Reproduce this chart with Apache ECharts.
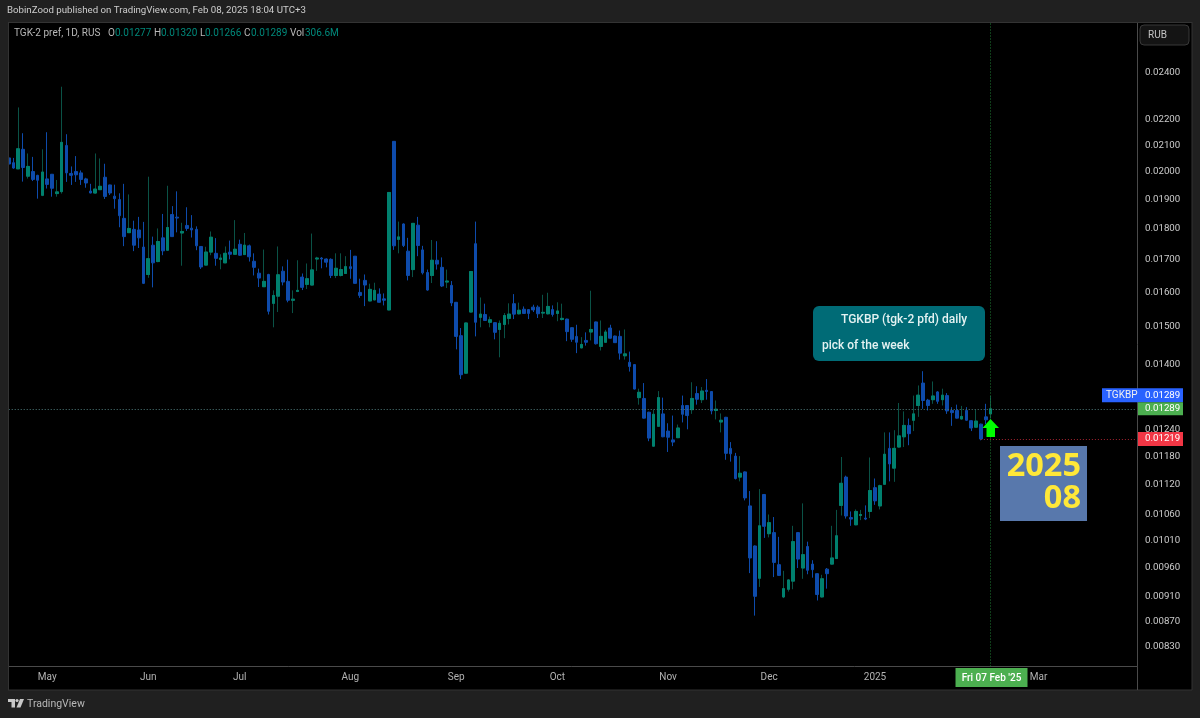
<!DOCTYPE html>
<html>
<head>
<meta charset="utf-8">
<title>TGK-2 pref, 1D</title>
<style>
  html, body { margin: 0; padding: 0; background: #000; }
  #chart { width: 1200px; height: 718px; }
</style>
<script src="https://cdn.jsdelivr.net/npm/echarts@6/dist/echarts.min.js"></script>
</head>
<body>
<div id="chart"></div>
<script>
// daily bars
const opens = [
  0.02051,0.02033,0.02010,0.02084,0.01983,0.02000,0.01986,0.01914,0.01973,0.01990,
  0.01920,0.01927,0.02099,0.01993,0.02000,0.01995,0.01973,0.01929,0.01922,0.01934,
  0.01979,0.01951,0.01911,0.01899,0.01834,0.01786,0.01797,0.01795,0.01739,0.01653,
  0.01745,0.01693,0.01769,0.01729,0.01847,0.01838,0.01785,0.01810,0.01801,0.01797,
  0.01741,0.01682,0.01723,0.01719,0.01700,0.01689,0.01723,0.01716,0.01748,0.01715,
  0.01743,0.01694,0.01657,0.01616,0.01653,0.01567,0.01588,0.01663,0.01632,0.01576,
  0.01602,0.01645,0.01623,0.01621,0.01701,0.01704,0.01701,0.01700,0.01650,0.01650,
  0.01656,0.01677,0.01710,0.01599,0.01635,0.01574,0.01577,0.01594,0.01580,0.01548,
  0.02115,0.01764,0.01815,0.01726,0.01668,0.01811,0.01730,0.01659,0.01650,0.01697,
  0.01675,0.01630,0.01620,0.01570,0.01476,0.01377,0.01542,0.01750,0.01527,0.01535,
  0.01513,0.01512,0.01493,0.01507,0.01524,0.01566,0.01537,0.01550,0.01549,0.01556,
  0.01556,0.01539,0.01537,0.01549,0.01538,0.01521,0.01522,0.01498,0.01474,0.01443,
  0.01463,0.01486,0.01514,0.01447,0.01458,0.01497,0.01475,0.01474,0.01422,0.01405,
  0.01399,0.01316,0.01314,0.01281,0.01203,0.01248,0.01277,0.01237,0.01217,0.01222,
  0.01297,0.01297,0.01287,0.01326,0.01311,0.01334,0.01331,0.01285,0.01258,0.01269,
  0.01198,0.01181,0.01136,0.01147,0.01077,0.01000,0.00942,0.01100,0.01023,0.01025,
  0.00966,0.00910,0.00923,0.00937,0.01025,0.00960,0.00999,0.00967,0.00950,0.00910,
  0.00958,0.00967,0.00977,0.01078,0.01136,0.01054,0.01040,0.01058,0.01053,0.01066,
  0.01114,0.01077,0.01121,0.01198,0.01155,0.01201,0.01224,0.01250,0.01262,0.01297,
  0.01352,0.01310,0.01311,0.01330,0.01311,0.01321,0.01285,0.01285,0.01265,0.01285,
  0.01261,0.01246,0.01253,0.01270,0.01277
];
const closes = [
  0.02028,0.02013,0.02086,0.02015,0.02019,0.01971,0.01968,0.01998,0.01953,0.01939,
  0.01926,0.02111,0.01995,0.01986,0.01988,0.01971,0.01958,0.01922,0.01936,0.01946,
  0.01910,0.01922,0.01902,0.01843,0.01773,0.01800,0.01745,0.01769,0.01626,0.01702,
  0.01689,0.01757,0.01727,0.01803,0.01773,0.01835,0.01790,0.01800,0.01795,0.01743,
  0.01676,0.01723,0.01771,0.01703,0.01704,0.01719,0.01716,0.01732,0.01713,0.01745,
  0.01708,0.01675,0.01642,0.01632,0.01544,0.01590,0.01652,0.01630,0.01576,0.01579,
  0.01605,0.01614,0.01640,0.01667,0.01704,0.01701,0.01691,0.01650,0.01672,0.01668,
  0.01677,0.01671,0.01626,0.01590,0.01621,0.01608,0.01605,0.01570,0.01576,0.01924,
  0.01743,0.01772,0.01744,0.01650,0.01817,0.01744,0.01658,0.01606,0.01697,0.01685,
  0.01618,0.01633,0.01568,0.01474,0.01373,0.01511,0.01662,0.01513,0.01536,0.01518,
  0.01520,0.01485,0.01510,0.01532,0.01536,0.01536,0.01547,0.01538,0.01538,0.01548,
  0.01537,0.01541,0.01558,0.01535,0.01545,0.01524,0.01487,0.01466,0.01458,0.01452,
  0.01458,0.01493,0.01454,0.01474,0.01486,0.01469,0.01457,0.01429,0.01427,0.01394,
  0.01337,0.01329,0.01267,0.01221,0.01276,0.01316,0.01224,0.01223,0.01212,0.01244,
  0.01276,0.01273,0.01314,0.01312,0.01332,0.01331,0.01284,0.01288,0.01262,0.01187,
  0.01186,0.01133,0.01144,0.01093,0.00978,0.00911,0.01038,0.01037,0.01044,0.00970,
  0.00947,0.00924,0.00939,0.01008,0.00976,0.00984,0.00956,0.00957,0.00914,0.00941,
  0.00950,0.00978,0.01019,0.01123,0.01057,0.01051,0.01066,0.01060,0.01051,0.01108,
  0.01087,0.01118,0.01185,0.01164,0.01198,0.01226,0.01250,0.01231,0.01277,0.01322,
  0.01309,0.01297,0.01320,0.01307,0.01322,0.01284,0.01280,0.01267,0.01271,0.01262,
  0.01244,0.01260,0.01219,0.01263,0.01289
];
const lows = [
  0.02008,0.02010,0.02010,0.01963,0.01974,0.01965,0.01902,0.01911,0.01938,0.01909,
  0.01909,0.01920,0.01962,0.01951,0.01962,0.01951,0.01941,0.01921,0.01920,0.01933,
  0.01901,0.01915,0.01867,0.01804,0.01742,0.01785,0.01726,0.01736,0.01624,0.01643,
  0.01614,0.01691,0.01713,0.01728,0.01772,0.01787,0.01680,0.01792,0.01770,0.01729,
  0.01670,0.01681,0.01713,0.01680,0.01669,0.01688,0.01700,0.01715,0.01711,0.01714,
  0.01693,0.01650,0.01615,0.01615,0.01535,0.01499,0.01542,0.01620,0.01570,0.01539,
  0.01600,0.01606,0.01609,0.01620,0.01664,0.01672,0.01675,0.01642,0.01642,0.01647,
  0.01655,0.01640,0.01626,0.01583,0.01559,0.01573,0.01576,0.01569,0.01561,0.01547,
  0.01730,0.01719,0.01739,0.01635,0.01645,0.01710,0.01653,0.01604,0.01627,0.01668,
  0.01615,0.01612,0.01559,0.01439,0.01362,0.01376,0.01541,0.01474,0.01499,0.01517,
  0.01499,0.01466,0.01418,0.01469,0.01507,0.01522,0.01535,0.01537,0.01522,0.01542,
  0.01525,0.01525,0.01535,0.01529,0.01516,0.01518,0.01461,0.01459,0.01429,0.01442,
  0.01449,0.01463,0.01452,0.01436,0.01457,0.01468,0.01456,0.01412,0.01412,0.01381,
  0.01336,0.01299,0.01266,0.01214,0.01202,0.01247,0.01223,0.01190,0.01203,0.01221,
  0.01257,0.01241,0.01277,0.01299,0.01303,0.01311,0.01276,0.01264,0.01234,0.01173,
  0.01169,0.01131,0.01127,0.01088,0.00951,0.00879,0.00927,0.01015,0.01016,0.00944,
  0.00946,0.00908,0.00919,0.00923,0.00960,0.00941,0.00949,0.00943,0.00904,0.00909,
  0.00924,0.00966,0.00976,0.01058,0.01052,0.01038,0.01039,0.01049,0.01049,0.01053,
  0.01079,0.01070,0.01120,0.01127,0.01126,0.01200,0.01201,0.01205,0.01237,0.01270,
  0.01289,0.01285,0.01301,0.01301,0.01297,0.01277,0.01249,0.01266,0.01264,0.01261,
  0.01237,0.01245,0.01216,0.01253,0.01266
];
const highs = [
  0.02066,0.02051,0.02252,0.02147,0.02068,0.02055,0.01988,0.02084,0.02151,0.01991,
  0.01969,0.02340,0.02143,0.02019,0.02058,0.02004,0.01977,0.01955,0.02068,0.02049,
  0.02029,0.01952,0.01952,0.01921,0.01955,0.01917,0.01826,0.01839,0.01822,0.01981,
  0.01773,0.01800,0.01849,0.01948,0.01876,0.01928,0.01819,0.01872,0.01845,0.01807,
  0.01742,0.01740,0.01790,0.01768,0.01716,0.01741,0.01760,0.01828,0.01763,0.01785,
  0.01747,0.01719,0.01671,0.01731,0.01655,0.01605,0.01741,0.01678,0.01699,0.01605,
  0.01697,0.01656,0.01687,0.01783,0.01708,0.01707,0.01703,0.01703,0.01719,0.01719,
  0.01710,0.01730,0.01710,0.01640,0.01653,0.01625,0.01628,0.01611,0.01596,0.01925,
  0.02116,0.01823,0.01817,0.01769,0.01818,0.01839,0.01743,0.01668,0.01762,0.01758,
  0.01706,0.01668,0.01633,0.01571,0.01497,0.01512,0.01663,0.01823,0.01584,0.01566,
  0.01529,0.01513,0.01518,0.01539,0.01567,0.01594,0.01569,0.01558,0.01550,0.01563,
  0.01561,0.01592,0.01598,0.01561,0.01570,0.01566,0.01523,0.01499,0.01506,0.01472,
  0.01485,0.01604,0.01515,0.01518,0.01492,0.01506,0.01476,0.01490,0.01493,0.01433,
  0.01400,0.01338,0.01352,0.01282,0.01287,0.01332,0.01316,0.01255,0.01273,0.01252,
  0.01321,0.01298,0.01354,0.01344,0.01342,0.01362,0.01332,0.01309,0.01278,0.01270,
  0.01212,0.01188,0.01181,0.01148,0.01107,0.01001,0.01111,0.01101,0.01060,0.01055,
  0.01017,0.00955,0.00940,0.01038,0.01026,0.01082,0.01008,0.00974,0.00951,0.00948,
  0.00960,0.01038,0.01069,0.01179,0.01139,0.01066,0.01070,0.01069,0.01078,0.01178,
  0.01133,0.01120,0.01234,0.01234,0.01239,0.01303,0.01283,0.01266,0.01321,0.01346,
  0.01382,0.01313,0.01356,0.01332,0.01338,0.01327,0.01293,0.01299,0.01296,0.01293,
  0.01262,0.01287,0.01254,0.01301,0.01320
];

// time axis: slot count incl. the empty space right of the last bar
const slotCount = 235;
const monthLabels = ['May', 'Jun', 'Jul', 'Aug', 'Sep', 'Oct', 'Nov', 'Dec', '2025', 'Mar'];
const monthSlots = [8, 29, 48, 71, 93, 114, 137, 158, 180, 214];
const priceTicks = [0.024, 0.022, 0.021, 0.020, 0.019, 0.018, 0.017, 0.016, 0.015, 0.014,
  0.0124, 0.0118, 0.0112, 0.0106, 0.0101, 0.0096, 0.0091, 0.0087, 0.0083];

const lastIndex = opens.length - 1;
const lastPrice = closes[lastIndex];
const stopPrice = 0.01219;

const upColor = '#00806e';
const upWick = '#0a5246';
const downColor = '#0e4bab';
const frameColor = '#202020';
const lineColor = '#4a4a4a';
const uiFont = 'Roboto, sans-serif';

let categories = [];
for (let i = 0; i < slotCount; i++) {
  categories.push('');
}
monthSlots.forEach((s, i) => { categories[s] = monthLabels[i]; });

const candles = opens.map((o, i) => [o, closes[i], lows[i], highs[i]]);
// green bodies go on top again, the green wick is darker than its body
const upBodies = opens.map((o, i) => closes[i] >= o ? [o, closes[i], o, closes[i]] : '-');

const chart = echarts.init(document.getElementById('chart'));
chart.setOption({
  animation: false,
  backgroundColor: '#000',
  grid: { left: 6.3, top: 23, width: 1131, height: 643.5 },
  xAxis: {
    type: 'category',
    data: categories,
    boundaryGap: true,
    axisLine: { lineStyle: { color: lineColor } },
    axisTick: { show: false },
    splitLine: { show: false },
    axisLabel: { interval: 0, color: '#b2b2b2', fontSize: 10, fontFamily: uiFont, margin: 6 }
  },
  yAxis: {
    type: 'log',
    logBase: 10,
    position: 'right',
    min: 0.008,
    max: 0.02633,
    axisLine: { show: true, lineStyle: { color: lineColor } },
    axisTick: { show: false },
    splitLine: { show: false },
    axisLabel: { show: false }
  },
  series: [
    {
      name: 'TGK-2 pref',
      type: 'candlestick',
      data: candles,
      barWidth: 3.2,
      itemStyle: {
        color: upColor, color0: downColor,
        borderColor: upWick, borderColor0: downColor,
        borderWidth: 1
      },
      markLine: {
        silent: true,
        symbol: 'none',
        label: { show: false },
        data: [
          [
            { coord: [0, lastPrice], lineStyle: { color: '#4f7c7c', type: [1, 2], width: 1 } },
            { coord: [slotCount - 1, lastPrice] }
          ],
          { xAxis: lastIndex, lineStyle: { color: '#1f7a33', type: [1, 2], width: 1 } },
          [
            { coord: [lastIndex - 2, stopPrice], lineStyle: { color: '#a3222f', type: [1, 2], width: 1 } },
            { coord: [slotCount - 1, stopPrice] }
          ]
        ]
      }
    },
    {
      name: 'up bodies',
      type: 'candlestick',
      data: upBodies,
      barWidth: 3.2,
      itemStyle: { color: upColor, color0: upColor, borderColor: upColor, borderColor0: upColor, borderWidth: 1 }
    }
  ]
});

// price labels and annotations sit at positions taken from the axes
function yOf(price) {
  return chart.convertToPixel({ yAxisIndex: 0 }, price);
}
const lastX = chart.convertToPixel({ xAxisIndex: 0 }, lastIndex);

function txt(x, y, text, color, size, extra) {
  return {
    type: 'text', z: 50,
    style: Object.assign({
      x: x, y: y, text: text, fill: color, fontSize: size, fontFamily: uiFont, verticalAlign: 'middle'
    }, extra || {})
  };
}
function box(x, y, w, h, fill, extra) {
  return { type: 'rect', z: 40, shape: Object.assign({ x: x, y: y, width: w, height: h }, extra && extra.shape), style: Object.assign({ fill: fill }, extra && extra.style) };
}

const legendLabels = ['O', 'H', 'L', 'C', 'Vol'];
const legendValues = ['0.01277', '0.01320', '0.01266', '0.01289', '306.6M'];
const legendLabelX = [108, 154, 200, 244, 290];
const legendValueX = [115, 161, 205, 251, 305];

let elements = [
  // frame around the panes
  box(0, 0, 1200, 22, frameColor),
  box(0, 0, 8, 718, frameColor),
  box(1192, 0, 8, 718, frameColor),
  box(0, 690, 1200, 28, frameColor),
  box(8, 22, 1184, 1, '#333333'),
  box(8, 22, 1, 668, '#333333'),
  box(1191.5, 22, 1, 668, '#333333'),
  box(8, 689.5, 1184, 1, '#333333'),
  box(1137, 667, 1, 23, lineColor),
  txt(7, 11, 'BobinZood published on TradingView.com, Feb 08, 2025 18:04 UTC+3', '#cdcdcd', 9.7),
  txt(14, 33, 'TGK-2 pref, 1D, RUS', '#b8b8b8', 10),
  // RUB button
  box(1140, 25, 49, 20, '#141414', { shape: { r: 4 }, style: { stroke: '#383838', lineWidth: 1 } }),
  txt(1148, 35.5, 'RUB', '#c4c4c4', 10),
  // note
  box(813, 306, 172, 55, '#006b76', { shape: { r: 6 } }),
  txt(841, 320, 'TGKBP (tgk-2 pfd) daily', '#e4f2f2', 12, { fontWeight: 500 }),
  txt(822, 345.5, 'pick of the week', '#e4f2f2', 12, { fontWeight: 500 }),
  // period stamp
  box(1000, 446, 87, 75, '#5878ac'),
  txt(1081, 467, '2025', '#ffe838', 32.5, { fontWeight: 'bold', align: 'right', fontFamily: '"Noto Sans", sans-serif' }),
  txt(1081, 499, '08', '#ffe838', 32.5, { fontWeight: 'bold', align: 'right', fontFamily: '"Noto Sans", sans-serif' }),
  // arrow under the last bar
  {
    type: 'polygon', z: 45,
    shape: { points: [[lastX, 419], [lastX + 8.5, 428], [lastX + 4.5, 428], [lastX + 4.5, 437], [lastX - 4, 437], [lastX - 4, 428], [lastX - 8, 428]] },
    style: { fill: '#00ff00' }
  },
  // last date tag
  box(lastX - 35, 668, 72, 19, '#4caf50'),
  txt(lastX + 1, 678, "Fri 07 Feb '25", '#ffffff', 10, { align: 'center', fontWeight: 500 }),
  // logo
  { type: 'polygon', z: 50, shape: { points: [[8, 699], [15, 699], [15, 707.5], [11.5, 707.5], [11.5, 702], [8, 702]] }, style: { fill: '#c8c8c8' } },
  { type: 'circle', z: 50, shape: { cx: 17, cy: 700.5, r: 1.6 }, style: { fill: '#c8c8c8' } },
  { type: 'polygon', z: 50, shape: { points: [[20, 699], [24, 699], [20.5, 707.5], [16.5, 707.5]] }, style: { fill: '#c8c8c8' } },
  txt(27, 704, 'TradingView', '#b8b8b8', 10.5)
];

legendLabels.forEach((l, i) => {
  elements.push(txt(legendLabelX[i], 33, l, '#b8b8b8', 10));
  elements.push(txt(legendValueX[i], 33, legendValues[i], '#00897b', 10));
});

// y axis labels
priceTicks.forEach(p => {
  elements.push(txt(1145, yOf(p), p.toFixed(5), '#cccccc', 9.7));
});

// price tags, drawn after the labels so they cover them
const lastY = yOf(lastPrice);
const stopY = yOf(stopPrice);
elements.push(box(1102, lastY - 20.5, 81, 14, '#2962ff'));
elements.push(txt(1106, lastY - 13, 'TGKBP', '#f0f0f0', 10));
elements.push(txt(1145, lastY - 13, lastPrice.toFixed(5), '#ffffff', 9.7));
elements.push(box(1138, lastY - 6.5, 45, 13, '#4caf50'));
elements.push(txt(1145, lastY, lastPrice.toFixed(5), '#ffffff', 9.7));
elements.push(box(1138, stopY - 7, 45, 14, '#f23645'));
elements.push(txt(1145, stopY, stopPrice.toFixed(5), '#ffffff', 9.7));

chart.setOption({ graphic: { elements: elements } });
</script>
</body>
</html>
